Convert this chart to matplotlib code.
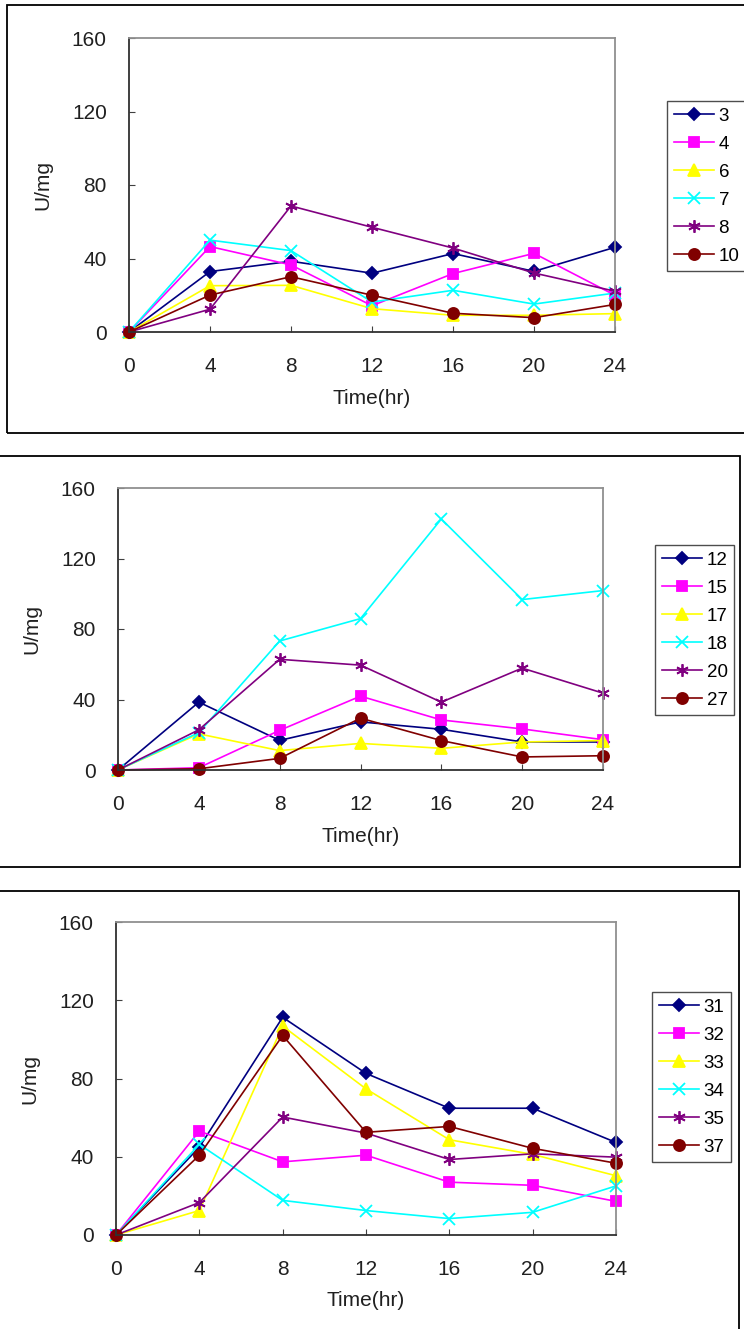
import matplotlib.pyplot as plt
from matplotlib.patches import Rectangle
import numpy as np

plt.rcParams['font.family'] = ['Liberation Sans', 'DejaVu Sans']

hours = [0, 4, 8, 12, 16, 20, 24]
yticks = [0, 40, 80, 120, 160]

# group 1
names1 = ['3', '4', '6', '7', '8', '10']
s3 = [0, 32.9, 38.5, 32.0, 42.7, 33.0, 46.1]
s4 = [0, 46.5, 36.5, 14.3, 31.8, 42.8, 20.0]
s6 = [0, 25.2, 25.4, 12.7, 9.1, 9.1, 10.0]
s7 = [0, 50.0, 44.3, 16.3, 22.7, 15.2, 21.2]
s8 = [0, 12.4, 68.6, 57.0, 45.7, 32.1, 22.2]
s10 = [0, 20.1, 30.1, 20.0, 10.2, 7.8, 15.0]

# group 2
names2 = ['12', '15', '17', '18', '20', '27']
s12 = [0, 38.5, 16.8, 27.3, 23.1, 15.9, 15.9]
s15 = [0, 1.3, 22.5, 41.9, 28.4, 23.3, 17.2]
s17 = [0, 20.5, 11.0, 15.1, 12.3, 15.9, 16.7]
s18 = [0, 21.2, 73.2, 85.9, 142.4, 96.7, 101.8]
s20 = [0, 22.8, 62.8, 59.5, 38.5, 57.8, 43.6]
s27 = [0, 0.7, 6.6, 29.4, 16.7, 7.4, 8.1]

# group 3
names3 = ['31', '32', '33', '34', '35', '37']
s31 = [0, 44.9, 111.3, 82.6, 64.8, 64.8, 47.3]
s32 = [0, 53.1, 37.4, 40.8, 27.0, 25.4, 17.2]
s33 = [0, 12.5, 106.8, 74.7, 48.7, 41.2, 30.3]
s34 = [0, 46.3, 17.7, 12.5, 8.4, 11.6, 25.1]
s35 = [0, 16.6, 60.3, 52.1, 38.6, 41.5, 39.8]
s37 = [0, 40.8, 102.0, 52.5, 55.5, 44.3, 36.7]

colors = ['#000080', '#FF00FF', '#FFFF00', '#00FFFF', '#800080', '#800000']
markers = ['D', 's', '^', 'x', (6, 2, 0), 'o']
msizes = [6.5, 7.5, 8, 8.5, 9, 8]

W, H = 744, 1329
fig = plt.figure(figsize=(W / 100, H / 100), dpi=100)

def px_rect(x0, y0, x1, y1):
    return [x0 / W, 1 - y1 / H, (x1 - x0) / W, (y1 - y0) / H]

# (frame box, plot area, legend anchor) in pixels
panels = [
    ((7, 5, 748, 433), (129, 38, 615, 332), (667, 101, 744, 269),
     names1, [s3, s4, s6, s7, s8, s10]),
    ((-2, 456, 740, 867), (118, 488, 603, 770), (655, 545, 741, 710),
     names2, [s12, s15, s17, s18, s20, s27]),
    ((-2, 891, 739, 1335), (116, 922, 616, 1235), (652, 992, 733, 1165),
     names3, [s31, s32, s33, s34, s35, s37]),
]

for frame, area, leg, names, series in panels:
    fig.add_artist(Rectangle((frame[0] / W, 1 - frame[3] / H),
                             (frame[2] - frame[0]) / W, (frame[3] - frame[1]) / H,
                             transform=fig.transFigure, fill=False,
                             edgecolor='black', linewidth=1.3))
    ax = fig.add_axes(px_rect(*area))
    for name, vals, c, m, ms in zip(names, series, colors, markers, msizes):
        ax.plot(hours, vals, color=c, marker=m, markersize=ms, linewidth=1.2,
                markeredgecolor=c, markeredgewidth=1.3, label=name, clip_on=False)
    ax.set_xlim(0, 24)
    ax.set_ylim(0, 160)
    ax.set_xticks(hours)
    ax.set_yticks(yticks)
    ax.tick_params(direction='in', length=4, labelsize=15, color='#404040',
                   labelcolor='#202020')
    ax.tick_params(axis='y', pad=16)
    ax.tick_params(axis='x', pad=18)
    ax.spines['left'].set_color('#303030')
    ax.spines['bottom'].set_color('#303030')
    ax.spines['top'].set_color('#909090')
    ax.spines['right'].set_color('#909090')
    for sp in ax.spines.values():
        sp.set_linewidth(1.3)
    ax.set_xlabel('Time(hr)', fontsize=15, labelpad=9, color='#202020')
    ax.set_ylabel('U/mg', fontsize=15, labelpad=14, color='#202020')

    lx0, ly0, lx1, ly1 = leg
    lg = ax.legend(loc='upper left',
                   bbox_to_anchor=(lx0 / W, 1 - ly0 / H),
                   bbox_transform=fig.transFigure,
                   fontsize=13.5, frameon=True, fancybox=False,
                   borderpad=0.35, labelspacing=0.58, handlelength=2.15,
                   handletextpad=0.25, borderaxespad=0)
    lg.get_frame().set_edgecolor('#202020')
    lg.get_frame().set_linewidth(1.0)

fig.savefig('out.png', dpi=100)
